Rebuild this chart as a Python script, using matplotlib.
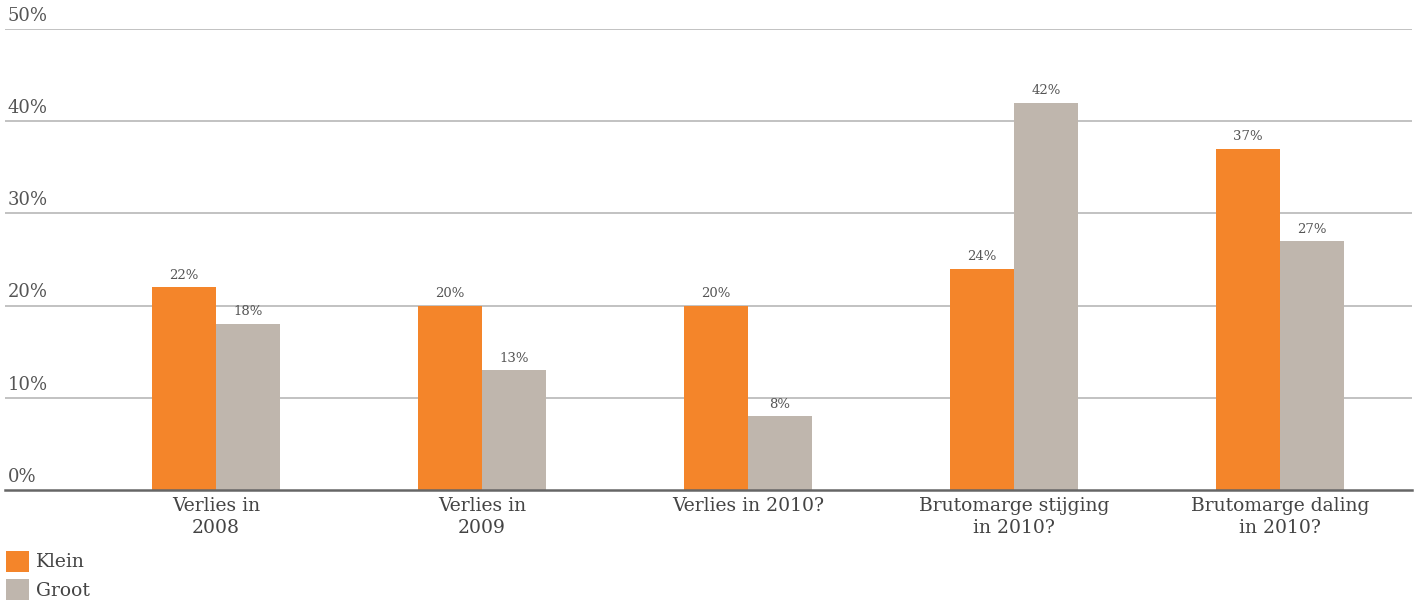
import matplotlib.pyplot as plt
import numpy as np

# Data
categories = ['Verlies in\n2008', 'Verlies in\n2009', 'Verlies in 2010?',
              'Brutomarge stijging\nin 2010?', 'Brutomarge daling\nin 2010?']
klein = [22, 20, 20, 24, 37]
groot = [18, 13, 8, 42, 27]
yticks = [0, 10, 20, 30, 40, 50]

orange = '#F4852A'
grey = '#BFB6AD'
text_col = '#555555'

plt.rcParams['font.family'] = ['DejaVu Serif']

fig = plt.figure(figsize=(14.18, 6.05), dpi=100)
ax = fig.add_axes([5 / 1418, 115 / 605, 1407 / 1418, (490 - 29) / 605])

x = np.arange(len(categories))
w = 0.24
b1 = ax.bar(x - w / 2, klein, w, color=orange, label='Klein', zorder=3)
b2 = ax.bar(x + w / 2, groot, w, color=grey, label='Groot', zorder=3)

for bars, vals in ((b1, klein), (b2, groot)):
    for rect, v in zip(bars, vals):
        ax.annotate(f'{v}%', (rect.get_x() + rect.get_width() / 2, v),
                    xytext=(0, 4), textcoords='offset points',
                    ha='center', va='bottom', fontsize=9.5, color=text_col)

ax.set_xlim(-0.793, 4.496)
ax.set_ylim(0, 50)

# gridlines with labels sitting above them on the left
for t in yticks[1:]:
    ax.axhline(t, color='#BDBDBD', lw=1.3, zorder=1)
for t in yticks:
    ax.annotate(f'{t}%', (0, t), xycoords=('axes fraction', 'data'),
                xytext=(2, 3), textcoords='offset points',
                ha='left', va='bottom', fontsize=13, color=text_col)

ax.set_yticks([])
ax.set_xticks(x)
ax.set_xticklabels(categories, fontsize=13.5, color='#444444', linespacing=1.3)
ax.tick_params(axis='x', length=0, pad=5)
for s in ['top', 'left', 'right']:
    ax.spines[s].set_visible(False)
ax.spines['bottom'].set_color('#666666')
ax.spines['bottom'].set_linewidth(1.8)
ax.spines['bottom'].set_zorder(4)

fig.legend(handles=[b1, b2], loc='upper left', bbox_to_anchor=(0.0, 60 / 605),
           frameon=False, fontsize=13.5, handlelength=1.25, handleheight=1.35,
           handletextpad=0.35, labelspacing=0.4, borderaxespad=0, borderpad=0.3,
           labelcolor='#444444')

fig.savefig('out.png', dpi=100, facecolor='white')
